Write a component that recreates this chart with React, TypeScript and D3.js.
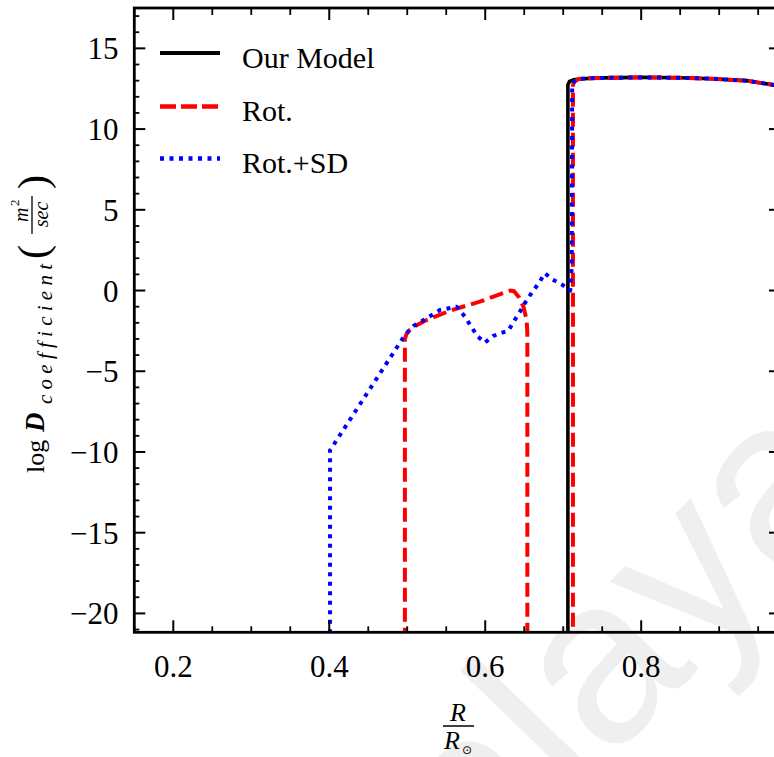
import React from 'react';
import * as d3 from 'd3';

// ---------- data ----------
const xDomain = [0.15, 0.978];
const yDomain = [-21.17, 17.5];
const xMajorTicks = [0.2, 0.4, 0.6, 0.8];
const xTickLabels = ['0.2', '0.4', '0.6', '0.8'];
const yMajorTicks = [-20, -15, -10, -5, 0, 5, 10, 15];
const yTickLabels = ['\u221220', '\u221215', '\u221210', '\u22125', '0', '5', '10', '15'];

const legendLabels = ['Our Model', 'Rot.', 'Rot.+SD'];

// Our Model (black solid)
const ourModelR = [0.15, 0.706, 0.706, 0.708, 0.713, 0.725, 0.75, 0.8, 0.85, 0.89, 0.935, 0.97, 0.99];
const ourModelLogD = [-23, -23, 12.75, 12.95, 13.05, 13.12, 13.17, 13.2, 13.18, 13.12, 13.0, 12.73, 12.5];

// Rot. (red dashed)
const rotR = [0.497, 0.497, 0.499, 0.503, 0.51, 0.525, 0.555, 0.575, 0.593, 0.615, 0.632, 0.637, 0.643, 0.649, 0.653, 0.654, 0.654,
  0.7125, 0.7125, 0.714, 0.72, 0.73, 0.75, 0.8, 0.85, 0.89, 0.935, 0.97, 0.99];
const rotLogD = [-23, -3.0, -2.7, -2.45, -2.2, -1.83, -1.25, -0.95, -0.69, -0.3, 0.0, -0.05, -0.4, -1.0, -1.8, -2.6, -23,
  -23, 12.7, 12.95, 13.1, 13.15, 13.17, 13.2, 13.18, 13.12, 13.0, 12.73, 12.5];

// Rot.+SD (blue dotted)
const rotSdR = [0.401, 0.401, 0.497, 0.508, 0.521, 0.542, 0.5635, 0.574, 0.5826, 0.59, 0.5996, 0.61, 0.619, 0.6295, 0.637,
  0.6445, 0.652, 0.66, 0.669, 0.6765, 0.686, 0.698, 0.705, 0.709, 0.711, 0.7115, 0.714, 0.72, 0.73, 0.75, 0.8, 0.85, 0.89, 0.935, 0.97, 0.99];
const rotSdLogD = [-23, -9.9, -2.76, -2.2, -1.83, -1.21, -1.0, -1.62, -2.28, -2.82, -3.23, -2.82, -2.65, -2.49, -1.89,
  -1.31, -0.69, -0.11, 0.48, 1.07, 0.69, 0.38, 0.15, 0.0, 1.5, 12.6, 12.95, 13.1, 13.15, 13.17, 13.2, 13.18, 13.12, 13.0, 12.73, 12.5];

// ---------- layout ----------
const W = 774;
const H = 757;
const left = 134.3;
const right = 780;
const top = 8;
const bottom = 632.3;
const serif = 'Liberation Serif, Times New Roman, DejaVu Serif, serif';
const sf = { fontFamily: serif };

export default function App() {
  const x = d3.scaleLinear().domain(xDomain).range([left, right]);
  const y = d3.scaleLinear().domain(yDomain).range([bottom, top]);
  const line = d3.line<[number, number]>().x((d) => x(d[0])).y((d) => y(d[1]));

  const xMinor = d3.range(0.15, 0.976, 0.05).map((v) => Math.round(v * 100) / 100)
    .filter((v) => !xMajorTicks.some((m) => Math.abs(m - v) < 1e-6));
  const yMinor = d3.range(-21, 18, 1).filter((v) => !yMajorTicks.includes(v));

  const black = d3.zip(ourModelR, ourModelLogD) as [number, number][];
  const red = d3.zip(rotR, rotLogD) as [number, number][];
  const blue = d3.zip(rotSdR, rotSdLogD) as [number, number][];

  const legendY = [53, 106.5, 158.5];
  const legendStyles = [
    { stroke: '#000', dash: undefined, w: 4 },
    { stroke: '#ff0000', dash: '16 5', w: 4.5 },
    { stroke: '#0000ff', dash: '4 5.5', w: 4.5 },
  ];

  return (
    <div style={{ position: 'fixed', left: 0, top: 0, width: W, height: H, overflow: 'hidden', background: '#fff' }}>
      <svg width={W} height={H} style={{ display: 'block' }}>
        <defs>
          <clipPath id="plotclip">
            <rect x={left} y={top} width={right - left} height={bottom - top} />
          </clipPath>
        </defs>
        <rect x={0} y={0} width={W} height={H} fill="#fff" />

        {/* watermark */}
        <text
          transform="translate(345,1035) rotate(-46)"
          style={{ fontFamily: 'Liberation Sans, Arial, sans-serif' }}
          fontSize={235}
          fill="#efefef"
        >
          Malaya
        </text>

        {/* curves */}
        <g clipPath="url(#plotclip)" fill="none" strokeLinejoin="round">
          <path d={line(black) || ''} stroke="#000" strokeWidth={3.6} />
          <path d={line(red) || ''} stroke="#ff0000" strokeWidth={4} strokeDasharray="14 6" />
          <path d={line(blue) || ''} stroke="#0000ff" strokeWidth={4} strokeDasharray="4 5.5" />
        </g>

        {/* frame */}
        <rect x={left} y={top} width={right - left} height={bottom - top} fill="none" stroke="#000" strokeWidth={2.8} />

        {/* x ticks bottom and top */}
        {xMajorTicks.map((v) => (
          <g key={'xM' + v}>
            <line x1={x(v)} x2={x(v)} y1={bottom} y2={bottom - 12} stroke="#000" strokeWidth={2} />
            <line x1={x(v)} x2={x(v)} y1={top} y2={top + 12} stroke="#000" strokeWidth={2} />
          </g>
        ))}
        {xMinor.map((v) => (
          <g key={'xm' + v}>
            <line x1={x(v)} x2={x(v)} y1={bottom} y2={bottom - 6} stroke="#000" strokeWidth={1.8} />
            <line x1={x(v)} x2={x(v)} y1={top} y2={top + 7} stroke="#000" strokeWidth={1.8} />
          </g>
        ))}
        {/* y ticks left and right */}
        {yMajorTicks.map((v) => (
          <g key={'yM' + v}>
            <line x1={left} x2={left + 11} y1={y(v)} y2={y(v)} stroke="#000" strokeWidth={2} />
            <line x1={right} x2={right - 11} y1={y(v)} y2={y(v)} stroke="#000" strokeWidth={2} />
          </g>
        ))}
        {yMinor.map((v) => (
          <g key={'ym' + v}>
            <line x1={left} x2={left + 5} y1={y(v)} y2={y(v)} stroke="#000" strokeWidth={1.8} />
            <line x1={right} x2={right - 5} y1={y(v)} y2={y(v)} stroke="#000" strokeWidth={1.8} />
          </g>
        ))}

        {/* tick labels */}
        {xMajorTicks.map((v, i) => (
          <text key={'xl' + v} x={x(v)} y={677} textAnchor="middle" style={sf} fontSize={31} fill="#000">
            {xTickLabels[i]}
          </text>
        ))}
        {yMajorTicks.map((v, i) => (
          <text key={'yl' + v} x={118.5} y={y(v) + 11} textAnchor="end" style={sf} fontSize={31} fill="#000">
            {yTickLabels[i]}
          </text>
        ))}

        {/* legend */}
        {legendLabels.map((lab, i) => (
          <g key={lab}>
            <line x1={160} x2={220} y1={legendY[i]} y2={legendY[i]} stroke={legendStyles[i].stroke}
              strokeWidth={legendStyles[i].w} strokeDasharray={legendStyles[i].dash} />
            <text x={242} y={legendY[i] + 14.5} style={sf} fontSize={30} fill="#000">{lab}</text>
          </g>
        ))}

        {/* x axis title: R / R_sun */}
        <g fill="#000">
          <text x={458} y={721} textAnchor="middle" style={sf} fontSize={26} fontStyle="italic">R</text>
          <line x1={443} x2={474} y1={726} y2={726} stroke="#000" strokeWidth={1.5} />
          <text x={444} y={749} style={sf} fontSize={26} fontStyle="italic">R</text>
          <text x={462} y={754} fontSize={12} style={{ fontFamily: 'DejaVu Sans, sans-serif' }}>{'\u2299'}</text>
        </g>

        {/* y axis title */}
        <g transform="translate(44,0) rotate(-90)" fill="#000">
          <text x={-473} y={0} style={sf} fontSize={26}>log</text>
          <text x={-432} y={0} style={sf} fontSize={27} fontStyle="italic" fontWeight="bold">D</text>
          <text x={-404} y={8} style={sf} fontSize={21} fontStyle="italic" textLength={140} lengthAdjust="spacing">coefficient</text>
          <text x={-259} y={3} style={sf} fontSize={42}>(</text>
          <text x={-222} y={-16} style={sf} fontSize={20} fontStyle="italic">m</text>
          <text x={-206} y={-25} style={sf} fontSize={13}>2</text>
          <line x1={-234} x2={-196} y1={-12} y2={-12} stroke="#000" strokeWidth={1.3} />
          <text x={-214.5} y={4} style={sf} fontSize={20} fontStyle="italic" textAnchor="middle">sec</text>
          <text x={-189} y={3} style={sf} fontSize={42}>)</text>
        </g>
      </svg>
    </div>
  );
}
